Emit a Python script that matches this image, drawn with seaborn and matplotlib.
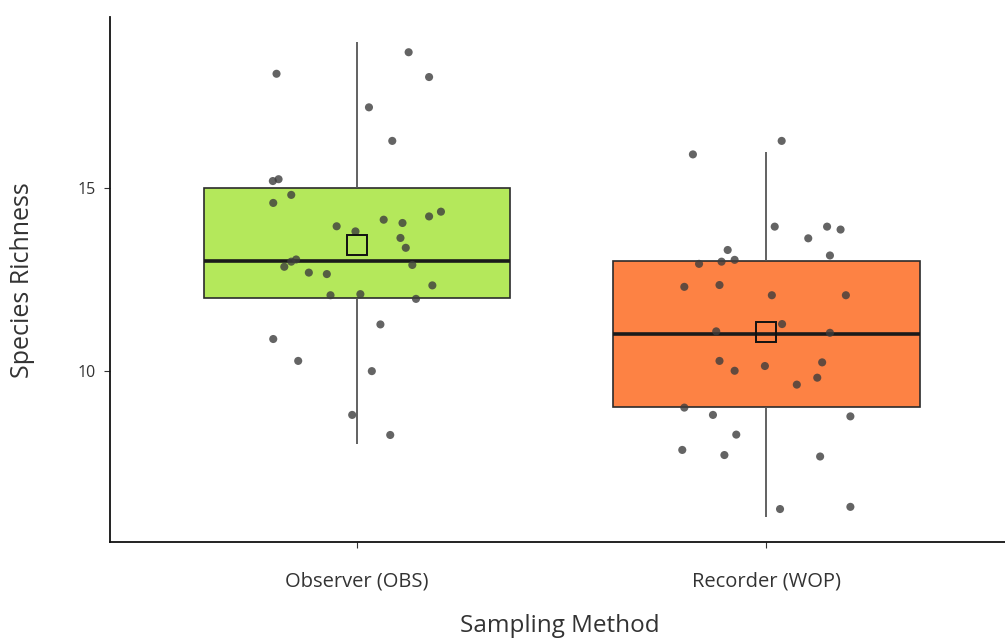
import numpy as np
import pandas as pd
import matplotlib
matplotlib.use("Agg")
import matplotlib.pyplot as plt
import seaborn as sns

# ---- data ----
methods = ["Observer (OBS)", "Recorder (WOP)"]

obs_richness = [18, 19, 18, 17, 16, 15, 15, 15, 15, 14, 14, 14, 14, 14, 14, 14, 13,
                13, 13, 13, 13, 13, 12, 12, 13, 12, 12, 11, 11, 10, 10, 9, 8]
obs_jitter_x = [-0.197, 0.126, 0.176, 0.029, 0.086, -0.206, -0.192, -0.161, -0.205,
                -0.050, 0.065, 0.111, 0.176, 0.205, -0.004, 0.106, 0.119, -0.178,
                -0.161, -0.149, -0.118, -0.074, -0.065, 0.008, 0.135, 0.184, 0.144,
                0.057, -0.205, -0.144, 0.036, -0.012, 0.081]
obs_jitter_y = [0.14, -0.27, 0.05, 0.22, 0.30, 0.20, 0.25, -0.18, -0.40, -0.04, 0.14,
                0.05, 0.23, 0.36, -0.18, -0.36, 0.37, -0.15, -0.01, 0.05, -0.31, -0.35,
                0.07, 0.10, -0.10, 0.34, -0.03, 0.27, -0.13, 0.27, -0.01, -0.21, 0.24]

wop_richness = [16, 16, 14, 14, 14, 14, 13, 13, 13, 13, 13, 12, 12, 12, 12, 11, 11,
                11, 10, 10, 10, 10, 10, 10, 9, 9, 9, 8, 8, 8, 8, 6, 6]
wop_jitter_x = [-0.179, 0.038, 0.021, 0.149, 0.182, 0.103, -0.094, 0.156, -0.164,
                -0.109, -0.077, -0.200, -0.114, 0.014, 0.195, 0.039, -0.122, 0.156,
                -0.114, -0.077, -0.003, 0.137, 0.125, 0.075, -0.200, -0.130, 0.206,
                -0.073, -0.205, -0.102, 0.132, 0.034, 0.206]
wop_jitter_y = [-0.07, 0.30, -0.05, -0.05, -0.13, -0.37, 0.31, 0.16, -0.07, -0.01,
                0.04, 0.30, 0.35, 0.07, 0.07, 0.28, 0.08, 0.04, 0.27, 0.00, 0.13, 0.23,
                -0.19, -0.38, -0.01, -0.21, -0.25, 0.25, -0.17, -0.31, -0.35, 0.21, 0.27]

box_colors = ["#b4e85b", "#fd8244"]
y_ticks = [10, 15]

df = pd.DataFrame({
    "Method": [methods[0]] * len(obs_richness) + [methods[1]] * len(wop_richness),
    "Richness": obs_richness + wop_richness,
    "jx": obs_jitter_x + wop_jitter_x,
    "jy": obs_jitter_y + wop_jitter_y,
})
df["xpos"] = df["Method"].map({m: i for i, m in enumerate(methods)}) + df["jx"]
df["ypos"] = df["Richness"] + df["jy"]

sns.set_style("white")
plt.rcParams["font.family"] = ["Open Sans", "DejaVu Sans"]

fig = plt.figure(figsize=(10.05, 6.44), dpi=100)
ax = fig.add_axes([0.1095, 0.158, 0.8905, 0.815])

sns.boxplot(data=df, x="Method", y="Richness", order=methods, hue="Method",
            hue_order=methods, palette=box_colors, legend=False, width=0.75,
            whis=1.5, showcaps=False, fliersize=0, saturation=1, ax=ax,
            showmeans=True,
            boxprops=dict(edgecolor="#2b2b2b", linewidth=1.2),
            whiskerprops=dict(color="#555555", linewidth=1.3),
            medianprops=dict(color="#1a1a1a", linewidth=2.6),
            meanprops=dict(marker="s", markerfacecolor="none",
                           markeredgecolor="#111111", markersize=14,
                           markeredgewidth=1.4))

ax.scatter(df["xpos"], df["ypos"], s=34, color="#3d3d3d", alpha=0.8,
           edgecolors="none", zorder=3)

for ln in ax.lines:
    if ln.get_marker() == "s":
        ln.set_zorder(5)

ax.set_xlim(-0.604, 1.584)
ax.set_ylim(5.30, 19.685)
ax.set_yticks(y_ticks)
ax.set_xticks([0, 1])
ax.set_xticklabels(methods)

for s in ["top", "right"]:
    ax.spines[s].set_visible(False)
for s in ["left", "bottom"]:
    ax.spines[s].set_color("#111111")
    ax.spines[s].set_linewidth(1.3)

ax.tick_params(axis="y", which="major", left=True, length=4, width=0.8,
               color="#333333", labelsize=11.5, labelcolor="#333333", pad=6)
ax.tick_params(axis="x", which="major", bottom=True, length=4, width=0.8,
               color="#333333", labelsize=14.5, labelcolor="#333333", pad=17)

ax.set_xlabel("Sampling Method", fontsize=17.5, color="#333333")
ax.set_ylabel("Species Richness", fontsize=18, color="#333333")
ax.xaxis.set_label_coords(0.502, -0.136)
ax.yaxis.set_label_coords(-0.084, 0.5)

fig.savefig("out.png", dpi=100)
